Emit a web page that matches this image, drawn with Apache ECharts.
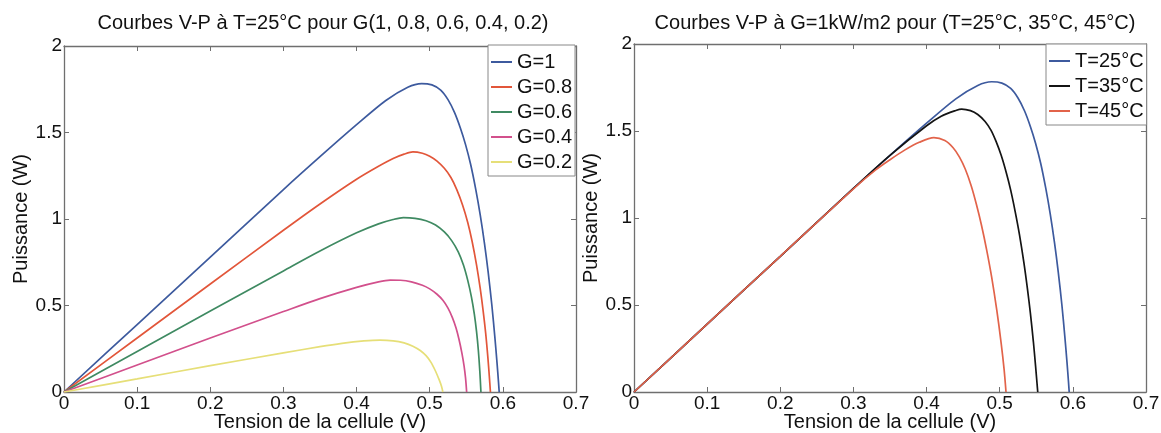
<!DOCTYPE html>
<html>
<head>
<meta charset="utf-8">
<script src="https://cdn.jsdelivr.net/npm/echarts@6/dist/echarts.min.js"></script>
<style>
  html, body { margin: 0; padding: 0; background: #fff; }
  #chart { width: 1161px; height: 433px; }
</style>
</head>
<body>
<div id="chart"></div>
<script>
// P-V curves of a solar cell, points as [tension (V), puissance (W)]
const titleIrradiance = 'Courbes V-P à T=25°C pour G(1, 0.8, 0.6, 0.4, 0.2)';
const titleTemperature = 'Courbes V-P à G=1kW/m2 pour (T=25°C, 35°C, 45°C)';
const xTicks = [0, 0.1, 0.2, 0.3, 0.4, 0.5, 0.6, 0.7];
const yTicks = [0, 0.5, 1, 1.5, 2];

const namesG = ['G=1', 'G=0.8', 'G=0.6', 'G=0.4', 'G=0.2'];
const namesT = ['T=25°C', 'T=35°C', 'T=45°C'];

const curveG10 = [[0,0],[0.1,0.39],[0.2,0.78],[0.3,1.17],[0.35,1.36],[0.4,1.545],[0.44,1.685],[0.47,1.762],[0.489,1.783],[0.503,1.775],[0.515,1.745],[0.525,1.69],[0.534,1.615],[0.542,1.525],[0.549,1.43],[0.556,1.315],[0.563,1.17],[0.569,1.025],[0.575,0.855],[0.58,0.69],[0.585,0.5],[0.589,0.32],[0.592,0.17],[0.594,0.06],[0.595,0]];
const curveG08 = [[0,0],[0.1,0.312],[0.2,0.624],[0.3,0.935],[0.35,1.087],[0.4,1.23],[0.43,1.305],[0.45,1.35],[0.465,1.375],[0.477,1.388],[0.49,1.38],[0.5,1.363],[0.51,1.335],[0.52,1.293],[0.529,1.24],[0.537,1.17],[0.545,1.08],[0.552,0.98],[0.558,0.87],[0.564,0.735],[0.569,0.6],[0.573,0.47],[0.5765,0.34],[0.5795,0.2],[0.5815,0.09],[0.583,0]];
const curveG06 = [[0,0],[0.1,0.234],[0.2,0.468],[0.3,0.7],[0.35,0.815],[0.4,0.92],[0.43,0.972],[0.45,0.997],[0.464,1.008],[0.48,1.004],[0.495,0.99],[0.508,0.965],[0.52,0.925],[0.53,0.875],[0.539,0.81],[0.546,0.735],[0.552,0.645],[0.557,0.55],[0.561,0.45],[0.564,0.35],[0.5665,0.24],[0.5685,0.12],[0.57,0]];
const curveG04 = [[0,0],[0.1,0.156],[0.2,0.312],[0.3,0.465],[0.35,0.54],[0.4,0.605],[0.43,0.637],[0.446,0.647],[0.46,0.646],[0.475,0.637],[0.49,0.617],[0.5,0.596],[0.51,0.565],[0.518,0.53],[0.525,0.485],[0.531,0.43],[0.536,0.37],[0.54,0.305],[0.544,0.225],[0.547,0.15],[0.549,0.08],[0.5505,0]];
const curveG02 = [[0,0],[0.1,0.076],[0.2,0.152],[0.3,0.226],[0.35,0.262],[0.38,0.281],[0.41,0.295],[0.432,0.3],[0.45,0.296],[0.465,0.284],[0.477,0.265],[0.487,0.24],[0.495,0.21],[0.502,0.17],[0.508,0.12],[0.513,0.07],[0.516,0.035],[0.518,0]];

const curveT25 = curveG10;
const curveT35 = [[0,0],[0.1,0.39],[0.2,0.78],[0.3,1.17],[0.35,1.36],[0.4,1.53],[0.42,1.585],[0.44,1.618],[0.448,1.626],[0.46,1.617],[0.47,1.595],[0.48,1.555],[0.488,1.505],[0.495,1.44],[0.502,1.36],[0.509,1.26],[0.515,1.16],[0.521,1.04],[0.527,0.905],[0.533,0.745],[0.538,0.59],[0.542,0.45],[0.546,0.29],[0.549,0.15],[0.551,0.05],[0.552,0]];
const curveT45 = [[0,0],[0.1,0.39],[0.2,0.78],[0.3,1.168],[0.33,1.275],[0.35,1.335],[0.37,1.39],[0.39,1.435],[0.41,1.462],[0.425,1.445],[0.436,1.405],[0.445,1.35],[0.453,1.28],[0.461,1.185],[0.468,1.08],[0.475,0.96],[0.482,0.82],[0.489,0.66],[0.496,0.47],[0.502,0.28],[0.506,0.13],[0.5086,0]];

const colorsG = ['#3d5a9e', '#e2563a', '#3f8a62', '#d2508c', '#e6df78'];
const colorsT = ['#3d5a9e', '#141414', '#e2634a'];

const FONT = '"Liberation Sans", Arial, sans-serif';
const axisColor = '#6f6f6f';
const axisLine = { onZero: false, lineStyle: { color: axisColor, width: 1.3 } };
const axisTick = { inside: true, length: 5, lineStyle: { color: axisColor } };

function xAxes(gridIndex) {
  return [{
    gridIndex, type: 'value', min: 0, max: 0.7, interval: 0.1,
    name: 'Tension de la cellule (V)', nameLocation: 'middle', nameGap: 20,
    nameMoveOverlap: false,
    nameTextStyle: { fontFamily: FONT, fontSize: 20, color: '#111' },
    axisLine, axisTick,
    axisLabel: { fontFamily: FONT, fontSize: 19, color: '#111', margin: 2,
      formatter: v => xTicks.includes(+v.toFixed(1)) ? String(+v.toFixed(1)) : '' },
    splitLine: { show: false }
  }, {
    gridIndex, type: 'value', min: 0, max: 0.7, interval: 0.1, position: 'top',
    axisLine, axisTick,
    axisLabel: { show: false }, splitLine: { show: false }
  }];
}

function yAxes(gridIndex) {
  return [{
    gridIndex, type: 'value', min: 0, max: 2, interval: 0.5,
    name: 'Puissance (W)', nameLocation: 'middle', nameGap: 33,
    nameMoveOverlap: false,
    nameTextStyle: { fontFamily: FONT, fontSize: 20, color: '#111' },
    axisLine, axisTick,
    axisLabel: { fontFamily: FONT, fontSize: 19, color: '#111', margin: 2,
      formatter: v => yTicks.includes(v) ? String(v) : '' },
    splitLine: { show: false }
  }, {
    gridIndex, type: 'value', min: 0, max: 2, interval: 0.5, position: 'right',
    axisLine, axisTick,
    axisLabel: { show: false }, splitLine: { show: false }
  }];
}

function curve(name, data, color, axisIdx) {
  return {
    name, type: 'line', data, color,
    xAxisIndex: axisIdx, yAxisIndex: axisIdx,
    showSymbol: false, smooth: 0.3, animation: false,
    lineStyle: { width: 1.7, color }
  };
}

const legendCommon = {
  orient: 'vertical', icon: 'rect', itemWidth: 21, itemHeight: 2, itemGap: 5, itemTextGap: 2,
  backgroundColor: '#fff', borderColor: '#888', borderWidth: 1,
  padding: [7, 3, 4, 3],
  textStyle: { fontFamily: FONT, fontSize: 20, color: '#111' }
};

const gSeries = [curveG10, curveG08, curveG06, curveG04, curveG02];
const tSeries = [curveT25, curveT35, curveT45];

const option = {
  backgroundColor: '#fff',
  animation: false,
  title: [
    { text: titleIrradiance, left: 318, top: 8, textAlign: 'center',
      textStyle: { fontFamily: FONT, fontSize: 20, fontWeight: 'normal', color: '#111' } },
    { text: titleTemperature, left: 890, top: 8, textAlign: 'center',
      textStyle: { fontFamily: FONT, fontSize: 20, fontWeight: 'normal', color: '#111' } }
  ],
  legend: [
    Object.assign({}, legendCommon, { data: namesG, left: 488, top: 45 }),
    Object.assign({}, legendCommon, { data: namesT, left: 1046, top: 44 })
  ],
  grid: [
    { left: 64, top: 46, width: 512, height: 346, outerBoundsMode: 'none' },
    { left: 634, top: 44, width: 512, height: 348, outerBoundsMode: 'none' }
  ],
  xAxis: [...xAxes(0), ...xAxes(1)],
  yAxis: [...yAxes(0), ...yAxes(1)],
  series: [
    ...gSeries.map((d, i) => curve(namesG[i], d, colorsG[i], 0)),
    ...tSeries.map((d, i) => curve(namesT[i], d, colorsT[i], 2))
  ]
};

const chart = echarts.init(document.getElementById('chart'), null, { renderer: 'canvas' });
chart.setOption(option);
</script>
</body>
</html>
